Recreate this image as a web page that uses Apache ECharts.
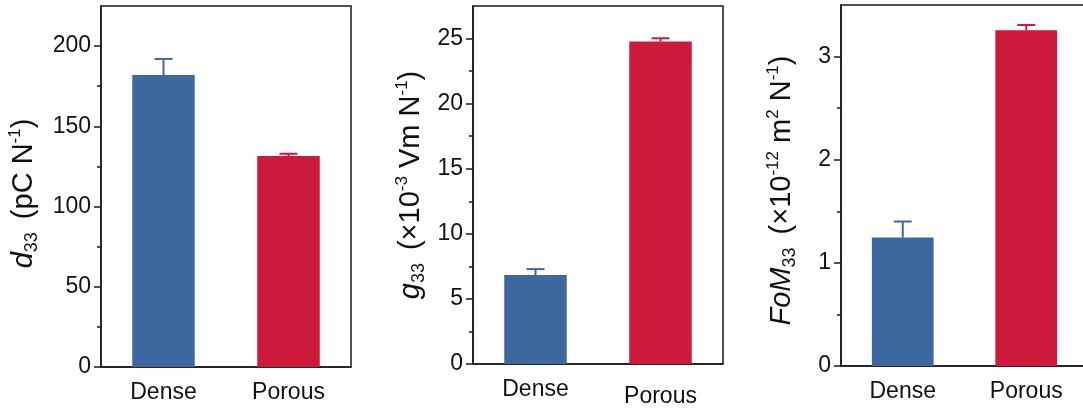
<!DOCTYPE html>
<html>
<head>
<meta charset="utf-8">
<script src="https://cdn.jsdelivr.net/npm/echarts@6/dist/echarts.min.js"></script>
<style>
  html, body { margin: 0; padding: 0; background: #fff; }
  #chart { width: 1083px; height: 409px; }
</style>
</head>
<body>
<div id="chart"></div>
<script>
// Sample categories
const categories = ['Dense', 'Porous'];

// Piezoelectric charge coefficient d33 (pC/N)
const d33Values = [182, 131.5];
const d33Errors = [10, 1.4];
const d33Ticks = [0, 50, 100, 150, 200];
const d33MinorTicks = [25, 75, 125, 175];

// Piezoelectric voltage coefficient g33 (x10^-3 Vm/N)
const g33Values = [6.83, 24.77];
const g33Errors = [0.46, 0.25];
const g33Ticks = [0, 5, 10, 15, 20, 25];
const g33MinorTicks = [2.5, 7.5, 12.5, 17.5, 22.5];

// Figure of merit FoM33 (x10^-12 m^2/N)
const fomValues = [1.246, 3.256];
const fomErrors = [0.155, 0.05];
const fomTicks = [0, 1, 2, 3];
const fomMinorTicks = [0.5, 1.5, 2.5];

const barColors = ['#3e68a0', '#cd1a3b'];
const axisColor = '#1a1a1a';
const FONT = 'Liberation Sans, Arial, sans-serif';

const panels = [
  { grid: { left: 101, top: 6, width: 250, height: 361 }, max: 225,
    values: d33Values, errors: d33Errors, ticks: d33Ticks, minor: d33MinorTicks,
    name: '{i|d}{sub|33 }{t| (pC N}{sup|-1}{t|)}', nameGap: 60, namePad: [0, 14, 0, 0],
    porousDrop: 0 },
  { grid: { left: 473, top: 6, width: 250, height: 358 }, max: 27.5,
    values: g33Values, errors: g33Errors, ticks: g33Ticks, minor: g33MinorTicks,
    name: '{i|g}{sub|33 }{t| (\u00d710}{sup|-3}{t| Vm N}{sup|-1}{t|)}', nameGap: 45, namePad: [0, 0, 0, 0],
    porousDrop: 7 },
  { grid: { left: 841, top: 5, width: 247, height: 361 }, max: 3.5,
    values: fomValues, errors: fomErrors, ticks: fomTicks, minor: fomMinorTicks,
    name: '{i|FoM}{sub|33 }{t| (\u00d710}{sup|-12}{t| m}{sup|2}{t| N}{sup|-1}{t|)}', nameGap: 42, namePad: [0, 10, 0, 0],
    porousDrop: 0 }
];

const nameRich = {
  i: { fontFamily: FONT, fontSize: 29, fontStyle: 'italic', color: '#111', lineHeight: 34 },
  t: { fontFamily: FONT, fontSize: 29, color: '#111', lineHeight: 34 },
  sub: { fontFamily: FONT, fontSize: 18, color: '#111', verticalAlign: 'bottom', lineHeight: 17 },
  sup: { fontFamily: FONT, fontSize: 17, color: '#111', verticalAlign: 'top', lineHeight: 17 }
};

const grids = [], xAxes = [], yAxes = [], series = [];

panels.forEach((p, k) => {
  grids.push(Object.assign({
    show: true, borderColor: axisColor, borderWidth: 1.5, backgroundColor: 'transparent',
    containLabel: false, outerBoundsMode: 'none'
  }, p.grid));

  xAxes.push({
    type: 'category', gridIndex: k, data: categories,
    axisLine: { lineStyle: { color: axisColor, width: 1.5 } },
    axisTick: { alignWithLabel: true, length: 6, lineStyle: { color: axisColor, width: 1.5 } },
    axisLabel: {
      interval: 0, hideOverlap: false,
      fontFamily: FONT, fontSize: 23, color: '#111', margin: 14,
      formatter: (v, i) => (i === 1 ? '{p|' + v + '}' : '{d|' + v + '}'),
      rich: {
        d: { fontFamily: FONT, fontSize: 23, color: '#111' },
        p: { fontFamily: FONT, fontSize: 23, color: '#111', padding: [p.porousDrop, 0, 0, 0] }
      }
    },
    splitLine: { show: false }
  });

  // major ticks with labels and axis title
  yAxes.push({
    type: 'value', gridIndex: k, position: 'left', min: 0, max: p.max,
    axisLine: { show: true, lineStyle: { color: axisColor, width: 1.5 } },
    axisTick: { show: true, length: 7, customValues: p.ticks, lineStyle: { color: axisColor, width: 1.5 } },
    axisLabel: { customValues: p.ticks, fontFamily: FONT, fontSize: 23, color: '#111', margin: 10 },
    splitLine: { show: false },
    name: p.name, nameLocation: 'middle', nameRotate: 90, nameGap: p.nameGap,
    nameTextStyle: { rich: nameRich, padding: p.namePad }
  });
  // minor ticks
  yAxes.push({
    type: 'value', gridIndex: k, position: 'left', offset: 0, min: 0, max: p.max,
    axisLine: { show: false },
    axisTick: { show: true, length: 4, customValues: p.minor, lineStyle: { color: axisColor, width: 1.5 } },
    axisLabel: { show: false },
    splitLine: { show: false }
  });

  series.push({
    type: 'bar', xAxisIndex: k, yAxisIndex: 2 * k, barWidth: '50%',
    data: p.values.map((v, i) => ({ value: v, itemStyle: { color: barColors[i] } })),
    z: 2
  });

  // error bars: stem from bar top up to value + error, with a cap
  series.push({
    type: 'custom', xAxisIndex: k, yAxisIndex: 2 * k, z: 3,
    data: p.values.map((v, i) => [i, v, v + p.errors[i]]),
    renderItem: function (params, api) {
      const lo = api.coord([api.value(0), api.value(1)]);
      const hi = api.coord([api.value(0), api.value(2)]);
      const color = barColors[params.dataIndex];
      const half = 9;
      return {
        type: 'group',
        children: [
          { type: 'line', shape: { x1: lo[0], y1: lo[1], x2: hi[0], y2: hi[1] },
            style: { stroke: color, lineWidth: 2 } },
          { type: 'line', shape: { x1: hi[0] - half, y1: hi[1], x2: hi[0] + half, y2: hi[1] },
            style: { stroke: color, lineWidth: 2 } }
        ]
      };
    }
  });
});

const chart = echarts.init(document.getElementById('chart'), null, { renderer: 'canvas' });
chart.setOption({
  animation: false,
  backgroundColor: '#fff',
  grid: grids,
  xAxis: xAxes,
  yAxis: yAxes,
  series: series
});
</script>
</body>
</html>
